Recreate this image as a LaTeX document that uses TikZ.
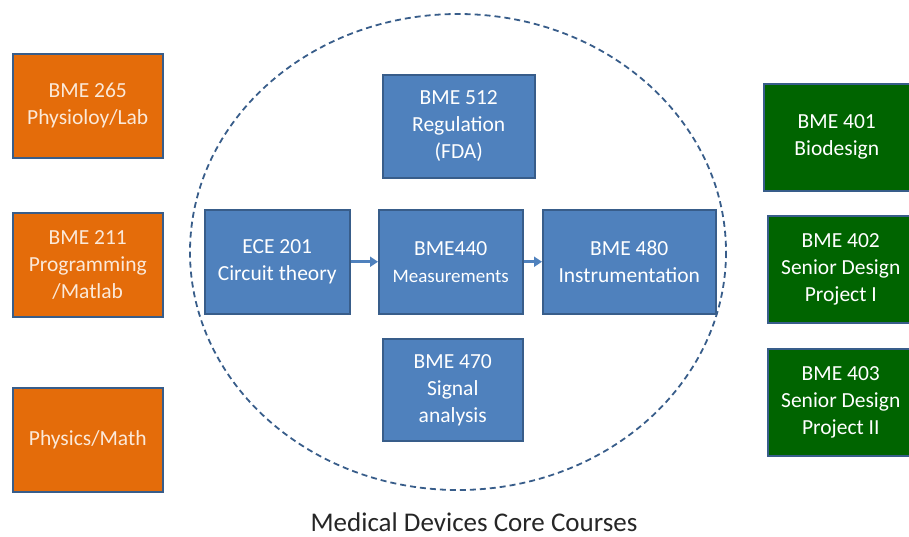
\documentclass[tikz,border=0pt]{standalone}
\usepackage{fontspec}
\setmainfont{Carlito}
\usetikzlibrary{arrows.meta}
\definecolor{borange}{HTML}{E46C0A}
\definecolor{bblue}{HTML}{4F81BD}
\definecolor{bgreen}{HTML}{006400}
\definecolor{bedge}{HTML}{385D8A}
\definecolor{otext}{HTML}{FBE9D9}
\tikzset{
  box/.style={draw=bedge, line width=1.5pt, minimum width=#1, inner sep=0pt, align=center,
    font=\fontsize{21.5}{27}\selectfont, anchor=north west},
  obox/.style={box=150pt, fill=borange, text=otext, minimum height=104pt},
  bbox/.style={box=#1, fill=bblue, text=white, minimum height=104pt},
  gbox/.style={box=146pt, fill=bgreen, text=white, minimum height=107pt},
  flow/.style={draw=bblue, line width=3pt, -{Triangle[length=8pt,width=10pt]}}
}
\begin{document}
\begin{tikzpicture}[x=1pt,y=-1pt]
\useasboundingbox (0,0) rectangle (909,536);
% ellipse
\draw[bedge, line width=1.8pt, dash pattern=on 6pt off 4pt] (458,252) ellipse [x radius=268, y radius=238];
% orange
\node[obox] (b265) at (12,53) {BME 265\\Physioloy/Lab};
\node[obox] (b211) at (12,212) {BME 211\\Programming\\/Matlab};
\node[obox] (phys) at (12,387) {Physics/Math};
% blue
\node[bbox=152pt, minimum height=103pt] (b512) at (382,74) {BME 512\\Regulation\\(FDA)};
\node[bbox=145pt] (e201) at (204,209) {ECE 201\\Circuit theory};
\node[bbox=144pt] (b440) at (378,209) {BME440\\{\fontsize{19}{27}\selectfont Measurements}};
\node[bbox=173pt] (b480) at (542,209) {BME 480\\Instrumentation};
\node[bbox=140pt, minimum height=102pt] (b470) at (382,338) {BME 470\\Signal\\analysis};
% green
\node[gbox] (b401) at (763,83) {BME 401\\Biodesign};
\node[gbox] (b402) at (767,215) {BME 402\\Senior Design\\Project I};
\node[gbox] (b403) at (767,348) {BME 403\\Senior Design\\Project II};
% arrows
\draw[flow] (e201.east) -- (b440.west);
\draw[flow] (b440.east) -- (b480.west);
% title
\node[font=\fontsize{27}{30}\selectfont, text=black!85, inner sep=0pt, anchor=base] (title) at (474,531) {Medical Devices Core Courses};
\end{tikzpicture}
\end{document}
